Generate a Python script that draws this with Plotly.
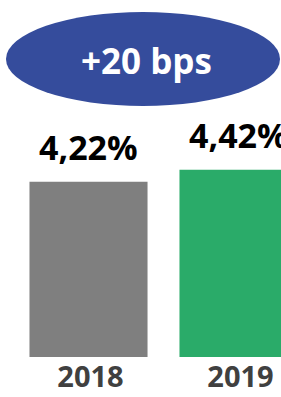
import plotly.graph_objects as go

categories = ["2018", "2019"]
values = [4.22, 4.42]
value_labels = ["4,22%", "4,42%"]
bar_colors = ["#7f7f7f", "#2aab69"]
badge_text = "+20 bps"

FONT = "Open Sans"

fig = go.Figure()
fig.add_trace(go.Bar(
    x=categories, y=values,
    marker=dict(color=bar_colors, line=dict(width=0)),
    hoverinfo="skip",
))

for i, (v, t) in enumerate(zip(values, value_labels)):
    fig.add_annotation(
        x=i, y=v, text=f"<b>{t}</b>", showarrow=False,
        yanchor="bottom", xanchor="center", yshift=10,
        font=dict(family=FONT, size=34, color="#000000"),
    )

# badge
fig.add_shape(type="circle", xref="paper", yref="paper",
              x0=6/281, x1=280/281, y0=1-106/357, y1=1-12/357,
              fillcolor="#354c9c", line=dict(width=0), layer="above")
fig.add_annotation(
    xref="paper", yref="paper", x=146.5/281, y=1-60/357,
    text=f"<b>{badge_text}</b>", showarrow=False,
    xanchor="center", yanchor="middle",
    font=dict(family=FONT, size=35, color="#ffffff"),
)

fig.update_layout(
    width=281, height=397,
    margin=dict(l=0, r=0, t=0, b=40),
    paper_bgcolor="white", plot_bgcolor="white",
    bargap=0.213,
    showlegend=False,
    xaxis=dict(
        type="category",
        range=[-88.5/150, -88.5/150 + 281/150],
        showgrid=False, zeroline=False, showline=False,
        ticks="", tickfont=dict(family=FONT, size=29, color="#404040"),
        tickprefix="<b>", ticksuffix="</b>",
        ticklabelshift=2,
    ),
    yaxis=dict(
        range=[1.3, 1.3 + 357/60],
        visible=False, showgrid=False, zeroline=False,
    ),
)

fig.write_html("out.html", config={"displayModeBar": False},
               post_script="document.body.style.margin='0px';")
